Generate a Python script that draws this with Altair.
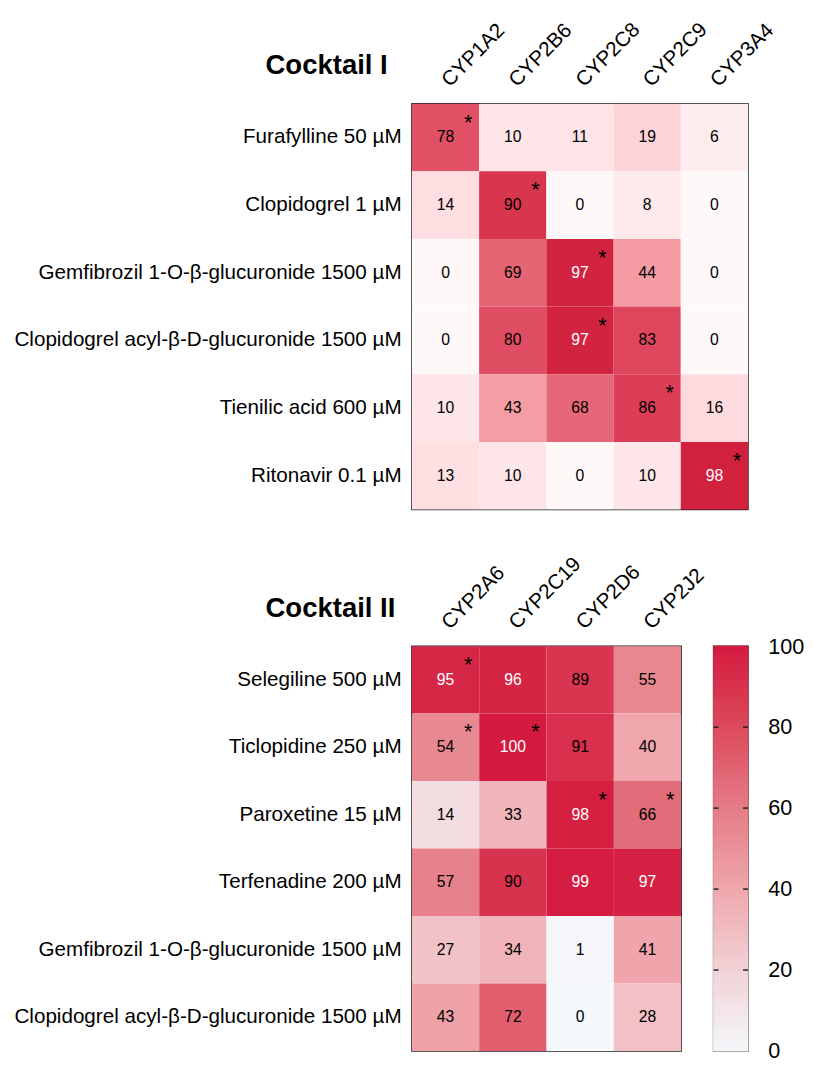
import altair as alt
import pandas as pd

FONT = "Liberation Sans"

c1_rows = ["Furafylline 50 µM", "Clopidogrel 1 µM",
           "Gemfibrozil 1-O-β-glucuronide 1500 µM",
           "Clopidogrel acyl-β-D-glucuronide 1500 µM",
           "Tienilic acid 600 µM", "Ritonavir 0.1 µM"]
c1_cols = ["CYP1A2", "CYP2B6", "CYP2C8", "CYP2C9", "CYP3A4"]
c1_vals = [[78, 10, 11, 19, 6],
           [14, 90, 0, 8, 0],
           [0, 69, 97, 44, 0],
           [0, 80, 97, 83, 0],
           [10, 43, 68, 86, 16],
           [13, 10, 0, 10, 98]]
c1_sig = [[1, 0, 0, 0, 0],
          [0, 1, 0, 0, 0],
          [0, 0, 1, 0, 0],
          [0, 0, 1, 0, 0],
          [0, 0, 0, 1, 0],
          [0, 0, 0, 0, 1]]

c2_rows = ["Selegiline 500 µM", "Ticlopidine 250 µM", "Paroxetine 15 µM",
           "Terfenadine 200 µM",
           "Gemfibrozil 1-O-β-glucuronide 1500 µM",
           "Clopidogrel acyl-β-D-glucuronide 1500 µM"]
c2_cols = ["CYP2A6", "CYP2C19", "CYP2D6", "CYP2J2"]
c2_vals = [[95, 96, 89, 55],
           [54, 100, 91, 40],
           [14, 33, 98, 66],
           [57, 90, 99, 97],
           [27, 34, 1, 41],
           [43, 72, 0, 28]]
c2_sig = [[1, 0, 0, 0],
          [1, 1, 0, 0],
          [0, 0, 1, 1],
          [0, 0, 0, 0],
          [0, 0, 0, 0],
          [0, 0, 0, 0]]

cb_ticks = [0, 20, 40, 60, 80, 100]
cb_steps = list(range(100))

dom = [0, 20, 40, 60, 80, 100]
rng1 = ["#fff8f8", "#fdd3d7", "#f6a4ab", "#ea7885", "#df4d62", "#d01c3b"]
rng2 = ["#f4f8fb", "#f2d2d6", "#efa7ad", "#e57c86", "#dc4a5d", "#d41b3f"]


def long_df(rows, cols, vals, sig):
    recs = []
    for i, r in enumerate(rows):
        for j, c in enumerate(cols):
            recs.append({"row": r, "col": c, "v": vals[i][j], "sig": sig[i][j]})
    return pd.DataFrame(recs)


def heat(df, rows, cols, title, rng, w, h):
    base = alt.Chart(df).encode(
        x=alt.X("col:N", sort=cols,
                scale=alt.Scale(paddingInner=0, paddingOuter=0),
                axis=alt.Axis(orient="top", title=None, labelAngle=-45,
                              labelAlign="left", labelBaseline="middle",
                              labelFontSize=21, labelPadding=21, ticks=False,
                              domain=False)),
        y=alt.Y("row:N", sort=rows,
                scale=alt.Scale(paddingInner=0, paddingOuter=0),
                axis=alt.Axis(title=None, labelFontSize=21, labelPadding=11,
                              ticks=False, domain=False, labelLimit=600)),
    )
    rect = base.mark_rect().encode(
        color=alt.Color("v:Q", scale=alt.Scale(domain=dom, range=rng, interpolate="rgb"),
                        legend=None))
    txt = base.mark_text(fontSize=16).encode(
        text="v:Q",
        color=alt.condition("datum.v >= 95", alt.value("white"), alt.value("black")))
    star = base.transform_filter("datum.sig == 1").mark_text(
        text="*", fontSize=22, dx=23, dy=-15, color="black")
    ttl = alt.Chart(pd.DataFrame({"t": [title]})).mark_text(
        align="left", fontSize=28, fontWeight="bold", color="black").encode(
        text="t:N", x=alt.value(-149), y=alt.value(-38))
    return alt.layer(rect, txt, star, ttl).properties(width=w, height=h)


top = heat(long_df(c1_rows, c1_cols, c1_vals, c1_sig), c1_rows, c1_cols,
           "Cocktail I", rng1, 342, 413)
bot = heat(long_df(c2_rows, c2_cols, c2_vals, c2_sig), c2_rows, c2_cols,
           "Cocktail II", rng2, 274, 412)

cb_scale = alt.Scale(domain=dom, range=rng2, interpolate="rgb")
cbdf = pd.DataFrame({"lo": cb_steps, "hi": [s + 1 for s in cb_steps]})
cbar = alt.Chart(cbdf).transform_calculate(mid="datum.lo + 0.5").mark_rect(
    strokeWidth=1).encode(
    x=alt.value(0), x2=alt.value(35),
    y=alt.Y("lo:Q", scale=alt.Scale(domain=[0, 100], nice=False),
            axis=alt.Axis(orient="right", values=cb_ticks, ticks=False, domain=False,
                          grid=False, labelFontSize=22, labelPadding=20, title=None)),
    y2="hi:Q",
    color=alt.Color("mid:Q", scale=cb_scale, legend=None),
    stroke=alt.Stroke("mid:Q", scale=cb_scale, legend=None),
)
tk = pd.DataFrame({"t": cb_ticks[1:-1]})
tl = alt.Chart(tk).mark_rule(color="#222", strokeWidth=1.5).encode(
    y="t:Q", x=alt.value(0), x2=alt.value(5))
tr = alt.Chart(tk).mark_rule(color="#222", strokeWidth=1.5).encode(
    y="t:Q", x=alt.value(30), x2=alt.value(35))
colorbar = alt.layer(cbar, tl, tr).properties(width=35, height=412)

bottom = alt.hconcat(bot, colorbar, spacing=33, bounds="flush").resolve_scale(
    color="independent", y="independent")

chart = alt.vconcat(top, bottom, spacing=42).resolve_scale(
    color="independent", x="independent", y="independent"
).properties(
    padding={"left": 5, "top": 0, "right": 0, "bottom": 0}
).configure_axis(
    labelFont=FONT, labelColor="black"
).configure_text(
    font=FONT
).configure_view(
    stroke="#222", strokeWidth=1.5
)

chart.save("out.html", embed_options={"renderer": "svg", "actions": False})
